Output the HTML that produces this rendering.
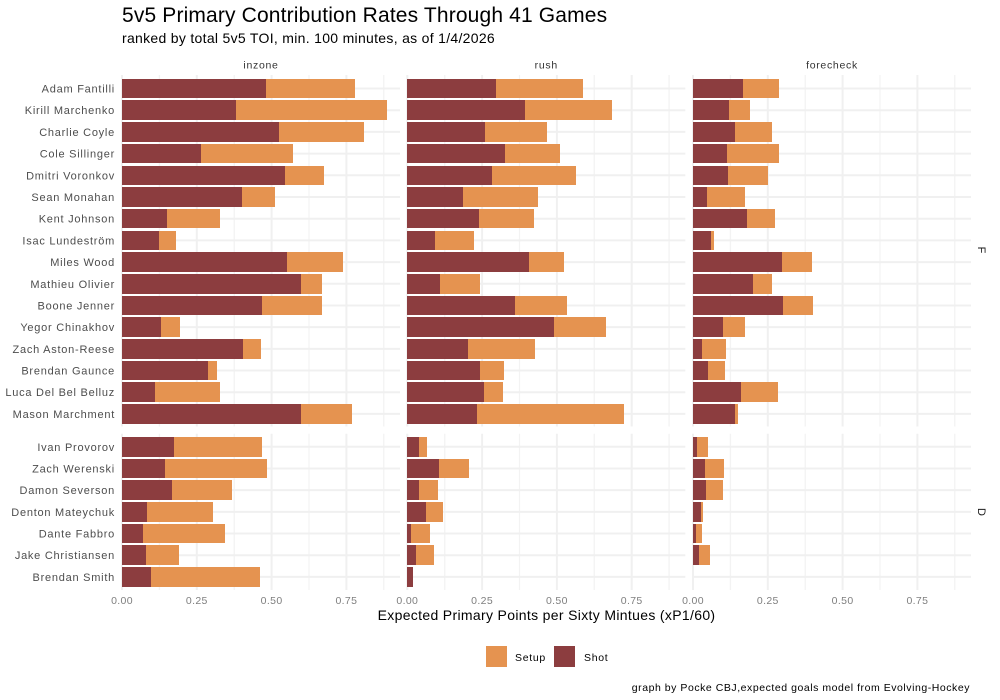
<!DOCTYPE html>
<html lang="en">
<head>
<meta charset="utf-8">
<title>5v5 Primary Contribution Rates</title>
<style>
html,body{margin:0;padding:0;background:#fff;}
svg{display:block;font-family:"Liberation Sans",Arial,sans-serif;}
</style>
</head>
<body>
<svg id="chart" xmlns="http://www.w3.org/2000/svg" width="1000" height="700" viewBox="0 0 1000 700">
  <rect x="0" y="0" width="1000" height="700" fill="#ffffff"/>
  <text x="122" y="22" font-size="21" fill="#000" letter-spacing="0.15">5v5 Primary Contribution Rates Through 41 Games</text>
  <text x="122" y="43" font-size="14" fill="#000" letter-spacing="0.3">ranked by total 5v5 TOI, min. 100 minutes, as of 1/4/2026</text>
  <text x="546.5" y="620" font-size="14" fill="#000" text-anchor="middle" letter-spacing="0.33">Expected Primary Points per Sixty Mintues (xP1/60)</text>
  <rect x="486" y="646" width="21" height="21" fill="#E59350"/>
  <text x="515" y="661" font-size="10.5" fill="#000" letter-spacing="0.7">Setup</text>
  <rect x="554" y="646" width="21" height="21" fill="#8C3D3F"/>
  <text x="584" y="661" font-size="10.5" fill="#000" letter-spacing="0.7">Shot</text>
  <text x="970" y="691" font-size="10.5" fill="#000" text-anchor="end" letter-spacing="0.54">graph by Pocke CBJ,expected goals model from Evolving-Hockey</text>
  <g id="plot"></g>
</svg>
<script>
const forwards = ["Adam Fantilli","Kirill Marchenko","Charlie Coyle","Cole Sillinger","Dmitri Voronkov","Sean Monahan","Kent Johnson","Isac Lundeström","Miles Wood","Mathieu Olivier","Boone Jenner","Yegor Chinakhov","Zach Aston-Reese","Brendan Gaunce","Luca Del Bel Belluz","Mason Marchment"];
const defense = ["Ivan Provorov","Zach Werenski","Damon Severson","Denton Mateychuk","Dante Fabbro","Jake Christiansen","Brendan Smith"];
const facets = ["inzone","rush","forecheck"];
const xTicks = [0,0.25,0.5,0.75];
const xTickLabels = ["0.00","0.25","0.50","0.75"];
const xMinor = [0.125,0.375,0.625,0.875];

const inzoneShotF = [.481,.381,.525,.264,.545,.401,.150,.124,.551,.598,.468,.130,.404,.287,.110,.598];
const inzoneSetupF = [.297,.505,.284,.307,.130,.110,.177,.057,.187,.070,.201,.064,.060,.030,.217,.170];
const rushShotF = [.296,.393,.260,.327,.283,.186,.240,.093,.407,.109,.360,.490,.203,.243,.256,.233];
const rushSetupF = [.291,.291,.207,.184,.281,.251,.184,.130,.117,.134,.174,.174,.224,.080,.064,.491];
const forecheckShotF = [.167,.120,.140,.114,.117,.047,.180,.060,.297,.201,.301,.100,.030,.050,.160,.140];
const forecheckSetupF = [.120,.070,.124,.174,.134,.127,.094,.010,.100,.064,.100,.074,.080,.057,.124,.010];

const inzoneShotD = [.174,.144,.167,.084,.070,.080,.097];
const inzoneSetupD = [.294,.341,.201,.221,.274,.110,.364];
const rushShotD = [.039,.106,.039,.063,.012,.029,.019];
const rushSetupD = [.027,.100,.064,.057,.064,.060,0];
const forecheckShotD = [.013,.040,.043,.027,.010,.020,0];
const forecheckSetupD = [.037,.064,.057,.007,.020,.037,0];

const SVGNS = "http://www.w3.org/2000/svg";
const plot = document.getElementById("plot");
const PX_PER_UNIT = 299.2;
const panelLeft = [122, 407.3, 693];
const panelWidth = 278;
const bandStep = 21.69;
const barHeight = 19.5;
const rowPanels = [
  {key:"F", names:forwards, top:75, bottom:426.5, firstY:88.55, labelY:250,
   shot:[inzoneShotF,rushShotF,forecheckShotF], setup:[inzoneSetupF,rushSetupF,forecheckSetupF]},
  {key:"D", names:defense, top:433.7, bottom:590, firstY:446.75, labelY:512,
   shot:[inzoneShotD,rushShotD,forecheckShotD], setup:[inzoneSetupD,rushSetupD,forecheckSetupD]}
];
function xScale(col, v){ return panelLeft[col] + v * PX_PER_UNIT; }
function yScale(panel, i){ return panel.firstY + i * bandStep; }
function make(tag, attrs, text){
  const el = document.createElementNS(SVGNS, tag);
  for (const k in attrs) el.setAttribute(k, attrs[k]);
  if (text !== undefined) el.textContent = text;
  plot.appendChild(el);
  return el;
}

facets.forEach(function(f, c){
  const strip = make("text", {x: panelLeft[c] + panelWidth/2, y: 68.5, "font-size": 10.5, fill: "#333333", "text-anchor": "middle", "letter-spacing": 0.7}, f);
  
  
});

rowPanels.forEach(function(p){
  const side = make("text", {x: 0, y: 0, "font-size": 11, fill: "#1a1a1a", "text-anchor": "middle", transform: "translate(978," + p.labelY + ") rotate(90)"}, p.key);
  
  

  p.names.forEach(function(n, i){
    const lab = make("text", {x: 115, y: yScale(p, i) + 4, "font-size": 11, fill: "#4d4d4d", "text-anchor": "end", "letter-spacing": 0.75}, n);
    
    
  });

  facets.forEach(function(f, c){
    xMinor.forEach(function(t){
      const x = xScale(c, t);
      const line = make("line", {x1: x, x2: x, y1: p.top, y2: p.bottom, stroke: "#f3f3f3", "stroke-width": 1.3});
      
      
    });
    xTicks.forEach(function(t){
      const x = xScale(c, t);
      const line = make("line", {x1: x, x2: x, y1: p.top, y2: p.bottom, stroke: "#f0f0f0", "stroke-width": 2});
      
      
    });
    p.names.forEach(function(n, i){
      const y = yScale(p, i);
      const line = make("line", {x1: panelLeft[c], x2: panelLeft[c] + panelWidth, y1: y, y2: y, stroke: "#f0f0f0", "stroke-width": 2});
      
      
    });
    p.names.forEach(function(n, i){
      const y = yScale(p, i);
      const top = Math.round(y - barHeight/2);
      const h = Math.round(y + barHeight/2) - top;
      const sv = p.shot[c][i];
      const st = p.setup[c][i];
      const x0 = Math.round(xScale(c, 0));
      const x1 = Math.round(xScale(c, sv));
      const x2 = Math.round(xScale(c, sv + st));
      const setupBar = make("rect", {x: x1, y: top, width: Math.max(0, x2 - x1), height: h, fill: "#E59350"});
      
      
      const shotBar = make("rect", {x: x0, y: top, width: Math.max(0, x1 - x0), height: h, fill: "#8C3D3F"});
      
      
    });
  });
});

facets.forEach(function(f, c){
  xTicks.forEach(function(t, i){
    const lab = make("text", {x: xScale(c, t), y: 604, "font-size": 10.5, fill: "#7f7f7f", "text-anchor": "middle", "letter-spacing": 0.35}, xTickLabels[i]);
    
    
  });
});
</script>
</body>
</html>
